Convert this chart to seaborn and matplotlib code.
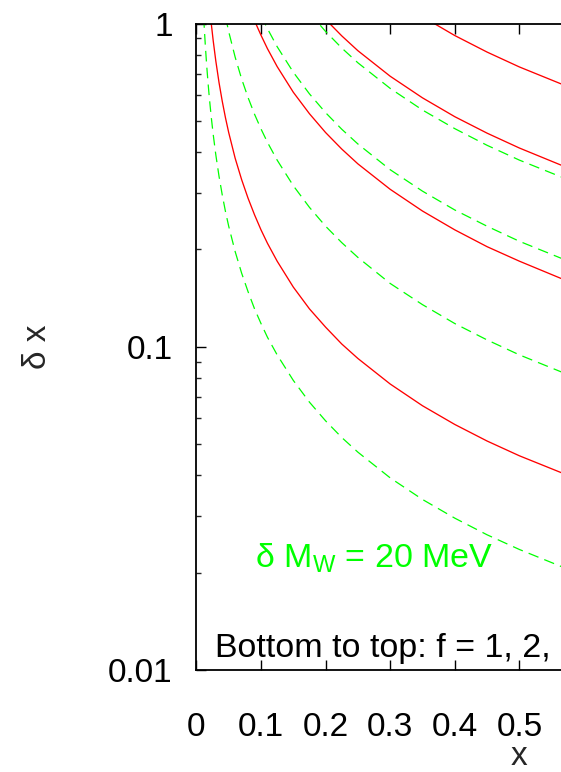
import numpy as np
import pandas as pd
import matplotlib
matplotlib.use("Agg")
import matplotlib.pyplot as plt
import seaborn as sns

nan = np.nan

# ---- data ----
x_grid = [0.010, 0.012, 0.014, 0.016, 0.018, 0.020, 0.023, 0.026, 0.030, 0.035,
          0.040, 0.045, 0.050, 0.060, 0.070, 0.080, 0.090, 0.100, 0.110, 0.125,
          0.150, 0.175, 0.200, 0.225, 0.250, 0.300, 0.350, 0.400, 0.450, 0.500, 0.570]

green_f1 = [1.18, 0.983, 0.843, 0.738, 0.656, 0.590, 0.513, 0.454, 0.393, 0.337,
            0.295, 0.262, 0.236, 0.197, 0.169, 0.148, 0.131, 0.118, 0.107, 0.0944,
            0.0787, 0.0674, 0.0590, 0.0524, 0.0472, 0.0393, 0.0337, 0.0295, 0.0262, 0.0236, 0.0207]
red_f1 = [nan, nan, nan, nan, 1.28, 1.15, 1.00, 0.885, 0.767, 0.657,
          0.575, 0.511, 0.460, 0.383, 0.329, 0.288, 0.256, 0.230, 0.209, 0.184,
          0.153, 0.131, 0.115, 0.102, 0.0920, 0.0767, 0.0657, 0.0575, 0.0511, 0.0460, 0.0404]
green_f2 = [nan, nan, nan, nan, nan, nan, nan, nan, nan, nan,
            1.18, 1.05, 0.944, 0.787, 0.674, 0.590, 0.524, 0.472, 0.429, 0.378,
            0.315, 0.270, 0.236, 0.210, 0.189, 0.157, 0.135, 0.118, 0.105, 0.0944, 0.0828]
red_f2 = [nan, nan, nan, nan, nan, nan, nan, nan, nan, nan,
          nan, nan, nan, nan, nan, 1.15, 1.02, 0.920, 0.836, 0.736,
          0.613, 0.526, 0.460, 0.409, 0.368, 0.307, 0.263, 0.230, 0.204, 0.184, 0.161]
green_f3 = [nan, nan, nan, nan, nan, nan, nan, nan, nan, nan,
            nan, nan, nan, nan, nan, nan, 1.18, 1.06, 0.964, 0.848,
            0.707, 0.606, 0.530, 0.471, 0.424, 0.353, 0.303, 0.265, 0.236, 0.212, 0.186]
red_f3 = [nan, nan, nan, nan, nan, nan, nan, nan, nan, nan,
          nan, nan, nan, nan, nan, nan, nan, nan, nan, nan,
          nan, 1.18, 1.03, 0.916, 0.824, 0.687, 0.589, 0.515, 0.458, 0.412, 0.361]
green_f4 = [nan, nan, nan, nan, nan, nan, nan, nan, nan, nan,
            nan, nan, nan, nan, nan, nan, nan, nan, nan, nan,
            1.26, 1.08, 0.945, 0.840, 0.756, 0.630, 0.540, 0.473, 0.420, 0.378, 0.332]
red_f4 = [nan, nan, nan, nan, nan, nan, nan, nan, nan, nan,
          nan, nan, nan, nan, nan, nan, nan, nan, nan, nan,
          nan, nan, nan, nan, nan, 1.22, 1.05, 0.918, 0.816, 0.734, 0.644]

x_ticks = [0.0, 0.1, 0.2, 0.3, 0.4, 0.5]
x_tick_labels = ["0", "0.1", "0.2", "0.3", "0.4", "0.5"]
y_ticks = [0.01, 0.1, 1.0]
y_tick_labels = ["0.01", "0.1", "1"]

green_curves = [green_f1, green_f2, green_f3, green_f4]
red_curves = [red_f1, red_f2, red_f3, red_f4]

# ---- style ----
sns.set_style("ticks")
plt.rcParams["font.family"] = ["Liberation Sans", "DejaVu Sans"]
plt.rcParams["mathtext.fontset"] = "custom"
plt.rcParams["mathtext.rm"] = "Liberation Sans"
plt.rcParams["mathtext.it"] = "Liberation Sans"

fig = plt.figure(figsize=(5.61, 7.72), dpi=100)
ax = fig.add_axes([0.3501, 0.1321, 1.1515, 0.8374])

red = "#ff0000"
green = "#00ff00"

for ys in green_curves:
    df = pd.DataFrame({"x": x_grid, "y": ys})
    sns.lineplot(data=df, x="x", y="y", ax=ax, color=green, lw=0.9,
                 linestyle=(0, (8.5, 5.0)), sort=False, estimator=None)
for ys in red_curves:
    df = pd.DataFrame({"x": x_grid, "y": ys})
    sns.lineplot(data=df, x="x", y="y", ax=ax, color=red, lw=0.95,
                 sort=False, estimator=None)

ax.set_yscale("log")
ax.set_xlim(0, 1)
ax.set_ylim(0.01, 1)
ax.set_xticks(x_ticks)
ax.set_xticklabels(x_tick_labels)
ax.set_yticks(y_ticks)
ax.set_yticklabels(y_tick_labels)
ax.yaxis.set_minor_locator(matplotlib.ticker.LogLocator(base=10, subs=np.arange(2, 10)))
ax.yaxis.set_minor_formatter(matplotlib.ticker.NullFormatter())

for s in ax.spines.values():
    s.set_linewidth(1.3)
    s.set_color("black")
ax.spines["right"].set_visible(False)

ax.tick_params(axis="both", which="major", direction="in", length=7.2, width=1.0,
               labelsize=24, colors="black", top=True)
ax.tick_params(axis="x", which="major", pad=30)
ax.tick_params(axis="y", which="major", pad=17)
ax.tick_params(axis="y", which="minor", direction="in", length=3.6, width=1.0)

ax.set_xlabel("x", fontsize=24)
ax.xaxis.label.set_va("baseline")
ax.xaxis.set_label_coords(0.5, -0.147)
ax.set_ylabel("δ x", fontsize=24)
ax.yaxis.set_label_coords(-0.222, 0.5)

ax.text(0.0907, 0.0208, r"δ M$_{\rm W}$ = 20 MeV", color=green, fontsize=24.5,
        ha="left", va="baseline")
ax.text(0.0288, 0.01096, "Bottom to top: f = 1, 2,", color="black", fontsize=24.5,
        ha="left", va="baseline")

fig.savefig("out.png", dpi=100)
